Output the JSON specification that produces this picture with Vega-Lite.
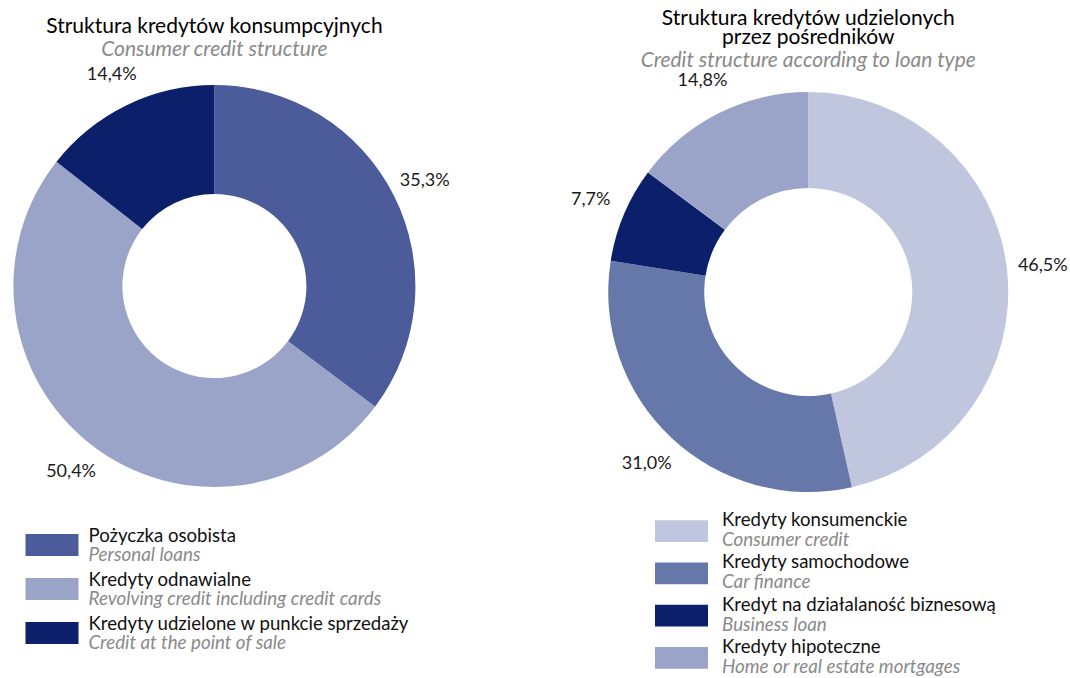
{
  "$schema": "https://vega.github.io/schema/vega-lite/v6.json",
  "padding": {"left": 0, "top": 7, "right": 0, "bottom": 0},
  "config": {
    "view": {"stroke": null},
    "font": "Lato",
    "title": {"fontWeight": "normal", "color": "#000000", "anchor": "middle", "subtitleFontStyle": "italic", "subtitleColor": "#8a8a8a", "fontSize": 21, "subtitleFontSize": 21, "subtitlePadding": 2}
  },
  "resolve": {"scale": {"color": "independent", "theta": "independent", "y": "independent", "x": "independent"}},
  "datasets": {
    "left": [
      {"k": "Pożyczka osobista", "en": "Personal loans", "v": 35.3, "lab": "35,3%", "o": 1},
      {"k": "Kredyty odnawialne", "en": "Revolving credit including credit cards", "v": 50.4, "lab": "50,4%", "o": 2},
      {"k": "Kredyty udzielone w punkcie sprzedaży", "en": "Credit at the point of sale", "v": 14.4, "lab": "14,4%", "o": 3}
    ],
    "right": [
      {"k": "Kredyty konsumenckie", "en": "Consumer credit", "v": 46.5, "lab": "46,5%", "o": 1},
      {"k": "Kredyty samochodowe", "en": "Car finance", "v": 31.0, "lab": "31,0%", "o": 2},
      {"k": "Kredyt na działalaność biznesową", "en": "Business loan", "v": 7.7, "lab": "7,7%", "o": 3},
      {"k": "Kredyty hipoteczne", "en": "Home or real estate mortgages", "v": 14.8, "lab": "14,8%", "o": 4}
    ]
  },
  "spacing": 121,
  "hconcat": [
    {
      "center": true,
      "spacing": 27,
      "vconcat": [
        {
          "width": 428,
          "height": 420,
          "title": {"text": "Struktura kredytów konsumpcyjnych", "subtitle": "Consumer credit structure", "offset": 6},
          "data": {"name": "left"},
          "encoding": {
            "theta": {"field": "v", "type": "quantitative", "stack": true},
            "order": {"field": "o", "type": "quantitative"}
          },
          "layer": [
            {
              "mark": {"type": "arc", "outerRadius": 201, "innerRadius": 92},
              "encoding": {
                "color": {"field": "k", "type": "nominal", "legend": null,
                  "scale": {"domain": ["Pożyczka osobista", "Kredyty odnawialne", "Kredyty udzielone w punkcie sprzedaży"], "range": ["#4c5b9a", "#9aa4c8", "#0b1f6b"]}}
              }
            },
            {
              "mark": {"type": "text", "radius": 235, "fontSize": 18, "fill": "#1a1a1a"},
              "encoding": {"text": {"field": "lab", "type": "nominal"}}
            }
          ]
        },
        {
          "bounds": "flush",
          "spacing": 10,
          "hconcat": [
            {
              "width": 53,
              "height": 132,
              "data": {"name": "left"},
              "mark": "rect",
              "encoding": {
                "y": {"field": "o", "type": "ordinal", "axis": null, "scale": {"paddingInner": 0.5, "paddingOuter": 0.25}},
                "color": {"field": "k", "type": "nominal", "legend": null,
                  "scale": {"domain": ["Pożyczka osobista", "Kredyty odnawialne", "Kredyty udzielone w punkcie sprzedaży"], "range": ["#4c5b9a", "#9aa4c8", "#0b1f6b"]}}
              }
            },
            {
              "width": 336,
              "height": 132,
              "data": {"name": "left"},
              "encoding": {
                "y": {"field": "o", "type": "ordinal", "axis": null, "scale": {"paddingInner": 0.5, "paddingOuter": 0.25}},
                "x": {"datum": 0, "type": "quantitative", "axis": null, "scale": {"domain": [0, 1]}}
              },
              "layer": [
                {"mark": {"type": "text", "align": "left", "baseline": "alphabetic", "dy": -3, "fontSize": 18.6, "fill": "#111111"}, "encoding": {"text": {"field": "k", "type": "nominal"}}},
                {"mark": {"type": "text", "align": "left", "baseline": "alphabetic", "dy": 15.5, "fontSize": 18.8, "fontStyle": "italic", "fill": "#8a8a8a"}, "encoding": {"text": {"field": "en", "type": "nominal"}}}
              ]
            }
          ]
        }
      ]
    },
    {
      "center": true,
      "spacing": 2,
      "vconcat": [
        {
          "width": 420,
          "height": 432,
          "title": {"text": ["Struktura kredytów udzielonych", "przez pośredników"], "subtitle": "Credit structure according to loan type", "offset": 1, "lineHeight": 19.5},
          "data": {"name": "right"},
          "encoding": {
            "theta": {"field": "v", "type": "quantitative", "stack": true},
            "order": {"field": "o", "type": "quantitative"}
          },
          "layer": [
            {
              "mark": {"type": "arc", "outerRadius": 200, "innerRadius": 104},
              "encoding": {
                "color": {"field": "k", "type": "nominal", "legend": null,
                  "scale": {"domain": ["Kredyty konsumenckie", "Kredyty samochodowe", "Kredyt na działalaność biznesową", "Kredyty hipoteczne"], "range": ["#c0c6dd", "#6677a9", "#0b1f6b", "#9aa4c8"]}}
              }
            },
            {
              "mark": {"type": "text", "radius": 236, "fontSize": 18, "fill": "#1a1a1a"},
              "encoding": {"text": {"field": "lab", "type": "nominal"}}
            }
          ]
        },
        {
          "bounds": "flush",
          "spacing": 14,
          "hconcat": [
            {
              "width": 53,
              "height": 169,
              "data": {"name": "right"},
              "mark": "rect",
              "encoding": {
                "y": {"field": "o", "type": "ordinal", "axis": null, "scale": {"paddingInner": 0.48, "paddingOuter": 0.24}},
                "color": {"field": "k", "type": "nominal", "legend": null,
                  "scale": {"domain": ["Kredyty konsumenckie", "Kredyty samochodowe", "Kredyt na działalaność biznesową", "Kredyty hipoteczne"], "range": ["#c0c6dd", "#6677a9", "#0b1f6b", "#9aa4c8"]}}
              }
            },
            {
              "width": 289,
              "height": 169,
              "data": {"name": "right"},
              "encoding": {
                "y": {"field": "o", "type": "ordinal", "axis": null, "scale": {"paddingInner": 0.48, "paddingOuter": 0.24}},
                "x": {"datum": 0, "type": "quantitative", "axis": null, "scale": {"domain": [0, 1]}}
              },
              "layer": [
                {"mark": {"type": "text", "align": "left", "baseline": "alphabetic", "dy": -5, "fontSize": 18.6, "fill": "#111111"}, "encoding": {"text": {"field": "k", "type": "nominal"}}},
                {"mark": {"type": "text", "align": "left", "baseline": "alphabetic", "dy": 15, "fontSize": 18.8, "fontStyle": "italic", "fill": "#8a8a8a"}, "encoding": {"text": {"field": "en", "type": "nominal"}}}
              ]
            }
          ]
        }
      ]
    }
  ]
}
